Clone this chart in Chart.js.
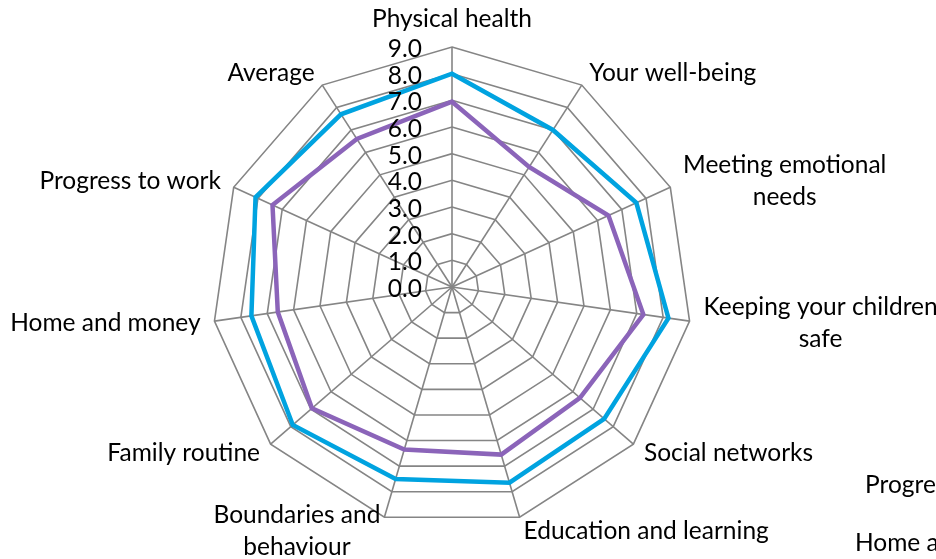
<!DOCTYPE html>
<html>
<head>
<meta charset="utf-8">
<script src="https://cdn.jsdelivr.net/npm/chart.js@4"></script>
<style>
    html, body { margin: 0; padding: 0; background: #fff; overflow: hidden; }
    #radar { display: block; }
</style>
</head>
<body>
<canvas id="radar" width="936" height="559"></canvas>
<script>
// Kategoriler (saat yönünde, üstten başlayarak)
const categories = [
    'Physical health',
    'Your well-being',
    ['Meeting emotional', 'needs'],
    ['Keeping your children', 'safe'],
    'Social networks',
    'Education and learning',
    ['Boundaries and', 'behaviour'],
    'Family routine',
    'Home and money',
    'Progress to work',
    'Average'
];

// Seriler
const seriesOuter = [8.0, 7.0, 7.6, 8.2, 7.55, 7.65, 7.5, 7.9, 7.6, 8.1, 7.7];
const seriesInner = [6.95, 5.35, 6.45, 7.25, 6.35, 6.55, 6.35, 6.95, 6.6, 7.4, 6.6];

// Eksen etiketleri
const tickValues = [0, 1, 2, 3, 4, 5, 6, 7, 8, 9];

// Sağ alttan taşan etiketler
const clippedLabels = ['Progress to work', 'Home and money'];

const FONT = '24.5px Lato, "Open Sans", sans-serif';
const GRID = '#858585';

// Etiketleri ve tick yazılarını elle çiz
const labelPlugin = {
    id: 'labelPlugin',
    afterDraw(chart) {
        const scale = chart.scales.r;
        const ctx = chart.ctx;
        ctx.save();
        ctx.font = FONT;
        ctx.fillStyle = '#000';
        ctx.textBaseline = 'middle';

        // tick yazıları
        ctx.textAlign = 'right';
        tickValues.forEach(v => {
            const y = scale.yCenter - scale.getDistanceFromCenterForValue(v);
            ctx.fillText(v.toFixed(1), scale.xCenter - 30, y + 2);
        });

        // kategori etiketleri
        const lineH = 32;
        categories.forEach((label, i) => {
            const lines = Array.isArray(label) ? label : [label];
            const p = scale.getPointPosition(i, scale.drawingArea + 14);
            const deg = scale.getIndexAngle(i) * 180 / Math.PI;
            const maxW = Math.max(...lines.map(l => ctx.measureText(l).width));
            let cx;
            if (deg < 1 || Math.abs(deg - 180) < 1) {
                cx = p.x;
            } else if (deg < 180) {
                cx = p.x + maxW / 2;
            } else {
                cx = p.x - maxW / 2;
            }
            let cy = p.y;
            if (deg < 1) cy -= 14;
            const top = cy - (lines.length * lineH) / 2 + lineH / 2;
            ctx.textAlign = 'center';
            lines.forEach((l, k) => ctx.fillText(l, cx, top + k * lineH));
        });

        // kesilmiş yazılar
        ctx.textAlign = 'left';
        ctx.fillText(clippedLabels[0], 865, 485);
        ctx.fillText(clippedLabels[1], 855, 543);
        ctx.restore();
    }
};

const ctx = document.getElementById('radar').getContext('2d');
new Chart(ctx, {
    type: 'radar',
    data: {
        labels: categories,
        datasets: [
            {
                label: 'Series 1',
                data: seriesOuter,
                borderColor: '#00A3E0',
                backgroundColor: 'transparent',
                borderWidth: 4.5,
                pointRadius: 0,
                fill: false,
                tension: 0
            },
            {
                label: 'Series 2',
                data: seriesInner,
                borderColor: '#8B64B9',
                backgroundColor: 'transparent',
                borderWidth: 4.5,
                pointRadius: 0,
                fill: false,
                tension: 0
            }
        ]
    },
    options: {
        responsive: false,
        animation: false,
        layout: {
            padding: { left: 212, right: 244, top: 47, bottom: 32 }
        },
        plugins: {
            legend: { display: false },
            tooltip: { enabled: false }
        },
        scales: {
            r: {
                min: 0,
                max: 9,
                ticks: { stepSize: 1, display: false },
                grid: { color: GRID, lineWidth: 1.6 },
                angleLines: { color: GRID, lineWidth: 1.6 },
                pointLabels: { display: false }
            }
        }
    },
    plugins: [labelPlugin]
});
</script>
</body>
</html>
